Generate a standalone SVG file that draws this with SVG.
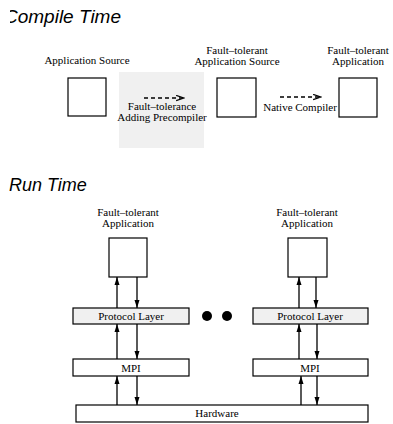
<svg xmlns="http://www.w3.org/2000/svg" width="393" height="424" viewBox="0 0 393 424">
<style>
.t{font-family:"Liberation Serif","Times New Roman",serif;font-size:11px;fill:#000;text-anchor:middle}
.h{font-family:"Liberation Sans",Arial,sans-serif;font-size:18px;font-style:italic;fill:#000}
.box{fill:#fff;stroke:#000;stroke-width:1.2}
.gbox{fill:#f0f0f0;stroke:#000;stroke-width:1.2}
.ln{stroke:#000;stroke-width:1.3;fill:none}
.dash{stroke:#000;stroke-width:1.6;fill:none;stroke-dasharray:4 3}
</style>
<defs>
<marker id="ah" viewBox="0 0 8 8" refX="8" refY="4" markerWidth="8" markerHeight="8" markerUnits="userSpaceOnUse" orient="auto">
<path d="M0,1.5 L8,4 L0,6.5 Z" fill="#000"/>
</marker>
<marker id="oh" viewBox="0 0 10 8" refX="9" refY="4" markerWidth="9" markerHeight="7" markerUnits="userSpaceOnUse" orient="auto">
<path d="M0,1 L9,4 L0,7" fill="none" stroke="#000" stroke-width="1.4"/>
</marker>
<clipPath id="cl"><rect x="10" y="0" width="383" height="424"/></clipPath>
</defs>
<rect width="393" height="424" fill="#fff"/>
<text class="h" x="4" y="23" clip-path="url(#cl)" textLength="117" lengthAdjust="spacingAndGlyphs">Compile Time</text>
<text class="h" x="9" y="191">Run Time</text>

<g id="precompiler">
<rect x="119" y="72" width="85" height="76" fill="#f0f0f0"/>
<text class="t" x="162" y="110">Fault–tolerance</text>
<text class="t" x="162" y="121">Adding Precompiler</text>
</g>
<g id="app-source">
<text class="t" x="87" y="64">Application Source</text>
<rect class="box" x="68" y="78" width="38" height="38"/>
</g>
<g id="ft-app-source">
<text class="t" x="237" y="54">Fault–tolerant</text>
<text class="t" x="237" y="65">Application Source</text>
<rect class="box" x="217" y="78" width="39" height="39"/>
</g>
<g id="native-compiler">
<text class="t" x="300" y="111">Native Compiler</text>
</g>
<g id="ft-app">
<text class="t" x="358" y="54">Fault–tolerant</text>
<text class="t" x="358" y="65">Application</text>
<rect class="box" x="339" y="78" width="38" height="39"/>
</g>

<g id="left-app">
<text class="t" x="128" y="216">Fault–tolerant</text>
<text class="t" x="128" y="227">Application</text>
<rect class="box" x="109" y="238" width="38" height="39"/>
</g>
<g id="right-app">
<text class="t" x="307" y="216">Fault–tolerant</text>
<text class="t" x="307" y="227">Application</text>
<rect class="box" x="288" y="238" width="39" height="39"/>
</g>
<g id="left-protocol">
<rect class="gbox" x="73" y="308" width="116" height="16"/>
<text class="t" x="131" y="320">Protocol Layer</text>
</g>
<g id="right-protocol">
<rect class="gbox" x="253" y="308" width="115" height="16"/>
<text class="t" x="310" y="320">Protocol Layer</text>
</g>
<g id="left-mpi">
<rect class="box" x="73" y="359" width="116" height="17"/>
<text class="t" x="131" y="372">MPI</text>
</g>
<g id="right-mpi">
<rect class="box" x="253" y="359" width="115" height="17"/>
<text class="t" x="310" y="372">MPI</text>
</g>
<g id="hardware">
<rect class="box" x="76" y="405" width="292" height="17"/>
<text class="t" x="217" y="417">Hardware</text>
</g>
<g id="dots">
<circle cx="207" cy="316" r="5" fill="#000"/>
<circle cx="227" cy="316" r="5" fill="#000"/>
</g>

<g id="connectors">
<line class="dash" x1="144" y1="98" x2="184" y2="98" marker-end="url(#oh)"/>
<line class="dash" x1="280" y1="97" x2="321" y2="97" marker-end="url(#oh)"/>
<line class="ln" x1="117" y1="308" x2="117" y2="277" marker-end="url(#ah)"/>
<line class="ln" x1="137" y1="277" x2="137" y2="308" marker-end="url(#ah)"/>
<line class="ln" x1="299" y1="308" x2="299" y2="277" marker-end="url(#ah)"/>
<line class="ln" x1="316" y1="277" x2="316" y2="308" marker-end="url(#ah)"/>
<line class="ln" x1="117" y1="359" x2="117" y2="324" marker-end="url(#ah)"/>
<line class="ln" x1="137" y1="324" x2="137" y2="359" marker-end="url(#ah)"/>
<line class="ln" x1="299" y1="359" x2="299" y2="324" marker-end="url(#ah)"/>
<line class="ln" x1="317" y1="324" x2="317" y2="359" marker-end="url(#ah)"/>
<line class="ln" x1="117" y1="405" x2="117" y2="376" marker-end="url(#ah)"/>
<line class="ln" x1="137" y1="376" x2="137" y2="405" marker-end="url(#ah)"/>
<line class="ln" x1="301" y1="405" x2="301" y2="376" marker-end="url(#ah)"/>
<line class="ln" x1="317" y1="376" x2="317" y2="405" marker-end="url(#ah)"/>
</g>
</svg>
